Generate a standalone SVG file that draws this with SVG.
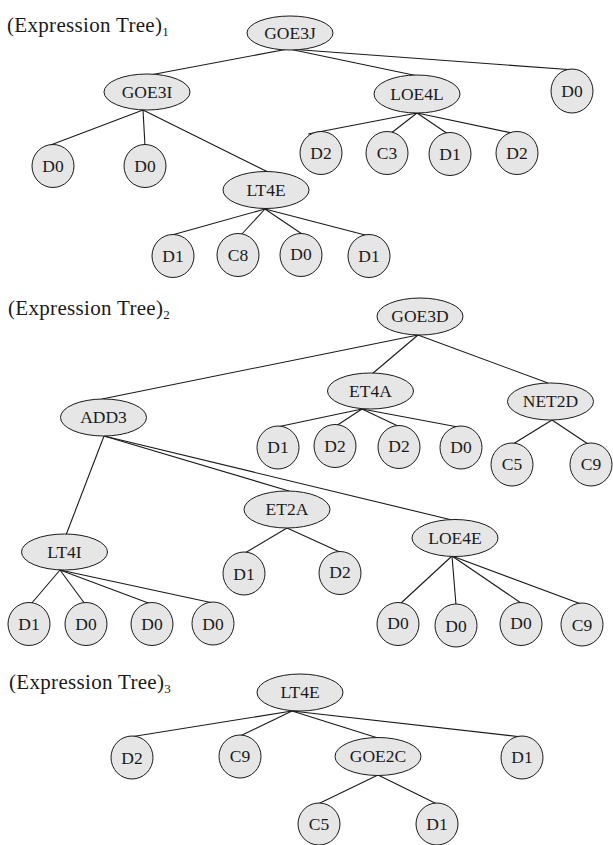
<svg xmlns="http://www.w3.org/2000/svg" width="613" height="845" viewBox="0 0 613 845">
<style>
.bg{fill:#ffffff}
.nd ellipse{fill:#e6e6e6;stroke:#1a1a1a;stroke-width:1}
.nd text{font-family:"Liberation Serif","Times New Roman",serif;font-size:17.5px;text-anchor:middle;fill:#1a1a1a}
.lbl{font-family:"Liberation Serif","Times New Roman",serif;font-size:21px;fill:#1a1a1a}
.sub{font-size:13px}
#connectors line{stroke:#1a1a1a;stroke-width:1.1;fill:none}
</style>
<rect class="bg" x="0" y="0" width="613" height="845"/>
<g id="labels">
<text class="lbl" x="7" y="32"><tspan textLength="155" lengthAdjust="spacing">(Expression Tree)</tspan><tspan class="sub" dy="4">1</tspan></text>
<text class="lbl" x="8" y="315"><tspan textLength="155" lengthAdjust="spacing">(Expression Tree)</tspan><tspan class="sub" dy="4">2</tspan></text>
<text class="lbl" x="9" y="689"><tspan textLength="155" lengthAdjust="spacing">(Expression Tree)</tspan><tspan class="sub" dy="4">3</tspan></text>
</g>
<g id="connectors">
<line x1="288" y1="49" x2="150" y2="75"/>
<line x1="289" y1="49" x2="418" y2="76"/>
<line x1="289" y1="49" x2="575" y2="70"/>
<line x1="143" y1="110" x2="48" y2="146"/>
<line x1="143" y1="110" x2="145" y2="146"/>
<line x1="143" y1="110" x2="270" y2="173"/>
<line x1="417" y1="113" x2="308" y2="134"/>
<line x1="417" y1="113" x2="390" y2="134"/>
<line x1="417" y1="113" x2="448" y2="134"/>
<line x1="417" y1="113" x2="512" y2="133"/>
<line x1="265" y1="209" x2="172" y2="235"/>
<line x1="265" y1="209" x2="241" y2="235"/>
<line x1="265" y1="209" x2="302" y2="234"/>
<line x1="265" y1="209" x2="369" y2="236"/>
<line x1="418" y1="335" x2="102" y2="399"/>
<line x1="418" y1="335" x2="372" y2="374"/>
<line x1="418" y1="335" x2="548" y2="383"/>
<line x1="362" y1="409" x2="277" y2="427"/>
<line x1="362" y1="409" x2="336" y2="426"/>
<line x1="362" y1="409" x2="400" y2="427"/>
<line x1="362" y1="409" x2="458" y2="427"/>
<line x1="552" y1="420" x2="513" y2="444"/>
<line x1="552" y1="420" x2="588" y2="444"/>
<line x1="104" y1="436" x2="66" y2="535"/>
<line x1="104" y1="436" x2="289" y2="491"/>
<line x1="104" y1="436" x2="452" y2="520"/>
<line x1="287" y1="528" x2="245" y2="553"/>
<line x1="287" y1="528" x2="342" y2="553"/>
<line x1="60" y1="570" x2="31" y2="604"/>
<line x1="60" y1="570" x2="85" y2="604"/>
<line x1="60" y1="570" x2="151" y2="604"/>
<line x1="60" y1="570" x2="213" y2="603"/>
<line x1="452" y1="556" x2="400" y2="604"/>
<line x1="452" y1="556" x2="456" y2="605"/>
<line x1="452" y1="556" x2="521" y2="603"/>
<line x1="452" y1="556" x2="581" y2="604"/>
<line x1="292" y1="711" x2="130" y2="737"/>
<line x1="292" y1="711" x2="240" y2="736"/>
<line x1="292" y1="711" x2="378" y2="738"/>
<line x1="292" y1="711" x2="522" y2="737"/>
<line x1="378" y1="775" x2="318" y2="804"/>
<line x1="378" y1="775" x2="437" y2="804"/>
</g>
<g id="t1-goe3j" class="nd"><ellipse cx="290" cy="33" rx="43" ry="17"/><text x="290" y="39">GOE3J</text></g>
<g id="t1-goe3i" class="nd"><ellipse cx="147" cy="92" rx="43" ry="18"/><text x="147" y="98">GOE3I</text></g>
<g id="t1-loe4l" class="nd"><ellipse cx="417" cy="94" rx="43" ry="19"/><text x="417" y="100">LOE4L</text></g>
<g id="t1-d0-a" class="nd"><ellipse cx="572" cy="91" rx="21" ry="22"/><text x="572" y="97">D0</text></g>
<g id="t1-d0-b" class="nd"><ellipse cx="53" cy="166" rx="21" ry="21.5"/><text x="53" y="172">D0</text></g>
<g id="t1-d0-c" class="nd"><ellipse cx="145" cy="166" rx="21" ry="21.5"/><text x="145" y="172">D0</text></g>
<g id="t1-lt4e" class="nd"><ellipse cx="266" cy="190" rx="43" ry="18.5"/><text x="266" y="196">LT4E</text></g>
<g id="t1-d2-a" class="nd"><ellipse cx="321" cy="153" rx="21" ry="21.5"/><text x="321" y="159">D2</text></g>
<g id="t1-c3" class="nd"><ellipse cx="387" cy="153" rx="21" ry="21.5"/><text x="387" y="159">C3</text></g>
<g id="t1-d1-a" class="nd"><ellipse cx="450" cy="154" rx="21" ry="21.5"/><text x="450" y="160">D1</text></g>
<g id="t1-d2-b" class="nd"><ellipse cx="517" cy="153" rx="21" ry="21.5"/><text x="517" y="159">D2</text></g>
<g id="t1-d1-b" class="nd"><ellipse cx="173" cy="256" rx="21" ry="21.5"/><text x="173" y="262">D1</text></g>
<g id="t1-c8" class="nd"><ellipse cx="238" cy="255" rx="21" ry="21.5"/><text x="238" y="261">C8</text></g>
<g id="t1-d0-d" class="nd"><ellipse cx="301" cy="255" rx="21" ry="21.5"/><text x="301" y="260">D0</text></g>
<g id="t1-d1-c" class="nd"><ellipse cx="369" cy="256" rx="21" ry="21.5"/><text x="369" y="262">D1</text></g>
<g id="t2-goe3d" class="nd"><ellipse cx="420" cy="316.5" rx="43" ry="18.5"/><text x="420" y="322">GOE3D</text></g>
<g id="t2-et4a" class="nd"><ellipse cx="370.5" cy="391" rx="43" ry="18"/><text x="370.5" y="397">ET4A</text></g>
<g id="t2-net2d" class="nd"><ellipse cx="550.5" cy="401.5" rx="43" ry="18.5"/><text x="550.5" y="407">NET2D</text></g>
<g id="t2-add3" class="nd"><ellipse cx="103.5" cy="417.5" rx="43" ry="18.5"/><text x="103.5" y="423">ADD3</text></g>
<g id="t2-d1-a" class="nd"><ellipse cx="278" cy="447.5" rx="21" ry="21.5"/><text x="278" y="453">D1</text></g>
<g id="t2-d2-a" class="nd"><ellipse cx="335" cy="446" rx="21" ry="21.5"/><text x="335" y="452">D2</text></g>
<g id="t2-d2-b" class="nd"><ellipse cx="399" cy="447" rx="21" ry="21.5"/><text x="399" y="452">D2</text></g>
<g id="t2-d0-a" class="nd"><ellipse cx="461" cy="447.5" rx="21" ry="21.5"/><text x="461" y="453">D0</text></g>
<g id="t2-c5" class="nd"><ellipse cx="512" cy="464.5" rx="21" ry="21.5"/><text x="512" y="470">C5</text></g>
<g id="t2-c9-a" class="nd"><ellipse cx="591" cy="464.5" rx="21" ry="21.5"/><text x="591" y="470">C9</text></g>
<g id="t2-et2a" class="nd"><ellipse cx="287" cy="509.5" rx="43" ry="18.5"/><text x="287" y="515">ET2A</text></g>
<g id="t2-loe4e" class="nd"><ellipse cx="455" cy="538" rx="43" ry="18.5"/><text x="455" y="544">LOE4E</text></g>
<g id="t2-lt4i" class="nd"><ellipse cx="64.5" cy="552" rx="43" ry="18"/><text x="64.5" y="558">LT4I</text></g>
<g id="t2-d1-b" class="nd"><ellipse cx="244" cy="573.5" rx="21" ry="21.5"/><text x="244" y="580">D1</text></g>
<g id="t2-d2-c" class="nd"><ellipse cx="340" cy="573" rx="21" ry="21.5"/><text x="340" y="578">D2</text></g>
<g id="t2-d1-c" class="nd"><ellipse cx="29" cy="624" rx="21" ry="21.5"/><text x="29" y="630">D1</text></g>
<g id="t2-d0-b" class="nd"><ellipse cx="86" cy="624" rx="21" ry="21.5"/><text x="86" y="630">D0</text></g>
<g id="t2-d0-c" class="nd"><ellipse cx="152" cy="624" rx="21" ry="21.5"/><text x="152" y="630">D0</text></g>
<g id="t2-d0-d" class="nd"><ellipse cx="213" cy="623.5" rx="21" ry="21.5"/><text x="213" y="630">D0</text></g>
<g id="t2-d0-e" class="nd"><ellipse cx="398" cy="624" rx="21" ry="21.5"/><text x="398" y="629">D0</text></g>
<g id="t2-d0-f" class="nd"><ellipse cx="456" cy="625.5" rx="21" ry="21.5"/><text x="456" y="632">D0</text></g>
<g id="t2-d0-g" class="nd"><ellipse cx="521" cy="624" rx="21" ry="21.5"/><text x="521" y="629">D0</text></g>
<g id="t2-c9-b" class="nd"><ellipse cx="582" cy="624.5" rx="21" ry="21.5"/><text x="582" y="631">C9</text></g>
<g id="t3-lt4e" class="nd"><ellipse cx="300" cy="692.5" rx="43" ry="18.5"/><text x="300" y="698">LT4E</text></g>
<g id="t3-d2" class="nd"><ellipse cx="132" cy="757.5" rx="21" ry="21.5"/><text x="132" y="764">D2</text></g>
<g id="t3-c9" class="nd"><ellipse cx="240" cy="756.5" rx="21" ry="21.5"/><text x="240" y="762">C9</text></g>
<g id="t3-goe2c" class="nd"><ellipse cx="378" cy="756.5" rx="43" ry="19"/><text x="378" y="762">GOE2C</text></g>
<g id="t3-d1-a" class="nd"><ellipse cx="522" cy="757.5" rx="21" ry="21.5"/><text x="522" y="763">D1</text></g>
<g id="t3-c5" class="nd"><ellipse cx="319" cy="824" rx="21" ry="21"/><text x="319" y="830">C5</text></g>
<g id="t3-d1-b" class="nd"><ellipse cx="437" cy="824" rx="21" ry="21"/><text x="437" y="830">D1</text></g>
</svg>
